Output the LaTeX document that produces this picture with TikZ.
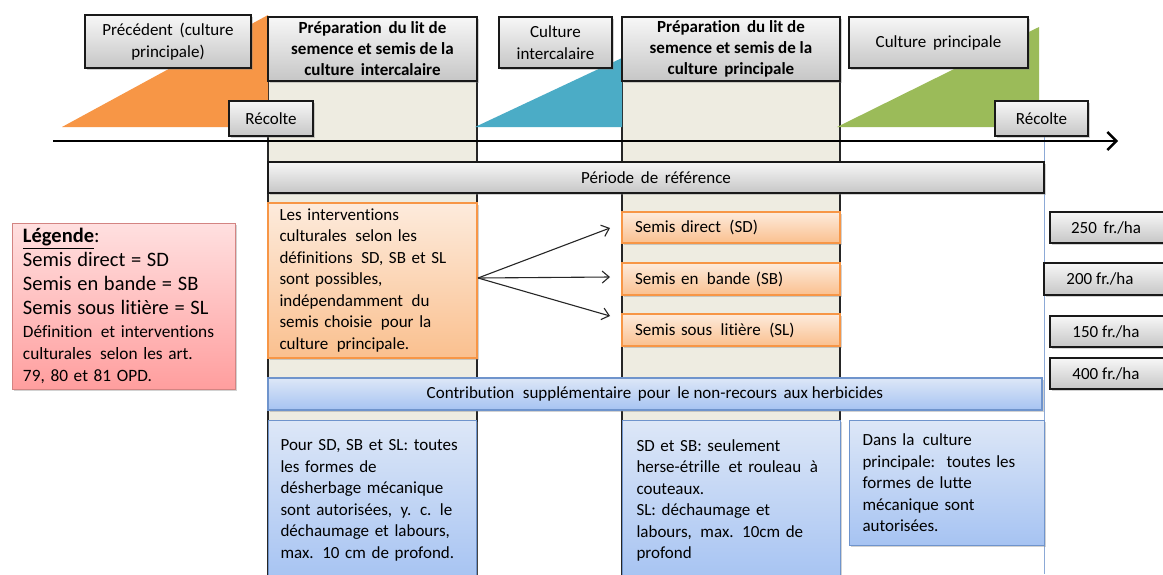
\documentclass[tikz,border=0pt]{standalone}
\usepackage{fontspec}
\setmainfont{Carlito}[Ligatures=NoCommon]
\usetikzlibrary{arrows.meta,shadows,calc}
\definecolor{beige}{HTML}{EEECE1}
\definecolor{grtop}{HTML}{F7F7F7}
\definecolor{grbot}{HTML}{C6C6C6}
\definecolor{orfill}{HTML}{F79646}
\definecolor{orltop}{HTML}{FDEBDC}
\definecolor{orlbot}{HTML}{FAC08F}
\definecolor{tealfill}{HTML}{4BACC6}
\definecolor{greenfill}{HTML}{9BBB59}
\definecolor{redtop}{HTML}{FFE0E0}
\definecolor{redbot}{HTML}{FF9E9E}
\definecolor{redline}{HTML}{C0504D}
\definecolor{bltop}{HTML}{DDE7F7}
\definecolor{blbot}{HTML}{A6C3F2}
\definecolor{blline}{HTML}{6F94CC}
\begin{document}
\begin{tikzpicture}[x=1pt,y=-1pt,font=\fontsize{17}{21.5}\selectfont,
  shad/.style={drop shadow={shadow xshift=1.5pt,shadow yshift=-1.5pt,opacity=0.35}},
  graybox/.style={draw=black!90,line width=1.1pt,top color=grtop,bottom color=grbot,shad,inner sep=2pt,align=center},
  colbox/.style={draw=black!85,line width=1.1pt,fill=beige},
  orbox/.style={draw=orfill,line width=1.1pt,top color=orltop,bottom color=orlbot,shad,inner sep=2pt},
  blbox/.style={draw=blline,line width=1.1pt,top color=bltop,bottom color=blbot,shad,inner sep=2pt},
  redbox/.style={draw=redline!70,line width=1pt,top color=redtop,bottom color=redbot,shad,inner sep=2pt},
  hdr/.style={graybox,minimum width=209pt,minimum height=64pt,font=\fontsize{17}{21}\selectfont\bfseries},
  link/.style={line width=1.1pt,black!85,-{Straight Barb[length=7pt,width=12pt,line width=1.1pt]}},
]
\clip (0,0) rectangle (1163,574);
\useasboundingbox (0,0) rectangle (1163,574);
\fill[white] (0,0) rectangle (1163,574);

% columns
\draw[colbox] (268,17) rectangle (477,600);
\draw[colbox] (622,17) rectangle (840,600);
\draw[blline!80,line width=0.8pt] (1044,136) -- (1044,574);

% triangles
\fill[orfill] (62,127) -- (268,15) -- (268,127) -- cycle;
\fill[tealfill] (475,127) -- (622,58) -- (622,127) -- cycle;
\fill[greenfill] (837,127) -- (1039,27) -- (1039,127) -- cycle;

% timeline
\coordinate (t0) at (53,141);
\coordinate (t1) at (1118,141);
\draw[line width=2.6pt,-{Straight Barb[length=9pt,width=18pt,line width=2.4pt]}] (t0) -- (t1);

% top boxes
\node[graybox,minimum width=166pt,minimum height=53pt] (prec) at (168,41.5) {Précédent \,(culture\\principale)};
\node[hdr] (hdr1) at (372.5,49) {Préparation \,du lit de\\semence et semis de la\\culture \,intercalaire};
\node[graybox,minimum width=84pt,minimum height=35pt] (rec1) at (271,118.5) {Récolte};
\node[graybox,minimum width=113pt,minimum height=51pt] (inter) at (555.5,42.5) {Culture\\intercalaire};
\node[hdr,minimum width=218pt] (hdr2) at (731,49) {Préparation \,du lit de\\semence et semis de la\\culture \,principale};
\node[graybox,minimum width=179pt,minimum height=51pt] (princ) at (938.5,42.5) {Culture \,principale};
\node[graybox,minimum width=93pt,minimum height=35pt] (rec2) at (1041.5,118.5) {Récolte};

\node[graybox,minimum width=776pt,minimum height=31pt] (periode) at (656,177.5) {Période \,de \,référence};

% legend
\node[redbox,minimum width=223pt,minimum height=166pt,text width=201pt,align=left] (legend) at (123.5,306)
 {{\fontsize{20.5}{24}\selectfont\underline{\textbf{Légende}}:\\
  Semis direct = SD\\
  Semis en bande = SB\\
  Semis sous litière = SL\\}
  \fontsize{17.3}{22.5}\selectfont Définition \,et interventions\\
  culturales \,selon les art.\\
  79, 80 et 81 OPD.};

% orange box
\node[orbox,minimum width=209pt,minimum height=155pt,text width=186pt,align=left] (orng) at (372.5,280.5)
 {Les interventions\\culturales \,selon les\\définitions \,SD, SB et SL\\sont possibles,\\indépendamment \,du\\semis choisie \,pour la\\culture \,principale.};

\node[orbox,minimum width=218pt,minimum height=31pt,text width=204pt,align=left] (sd) at (731,227.5) {\hspace*{6pt}Semis direct \,(SD)};
\node[orbox,minimum width=218pt,minimum height=32pt,text width=204pt,align=left] (sb) at (731,279) {\hspace*{6pt}Semis en \,bande (SB)};
\node[orbox,minimum width=218pt,minimum height=32pt,text width=204pt,align=left] (sl) at (731,330) {\hspace*{6pt}Semis sous \,litière \,(SL)};

\coordinate (tsd) at (610,228);
\coordinate (tsb) at (610,277);
\coordinate (tsl) at (610,316);
\coordinate (src) at (478,278);
\draw[link] (src) -- (tsd);
\draw[link] (src) -- (tsb);
\draw[link] (src) -- (tsl);

% prices
\node[graybox,minimum width=120pt,minimum height=31pt] (p250) at (1110,227.5) {\hspace*{-8pt}250 \,fr./ha};
\node[graybox,minimum width=126pt,minimum height=32pt] (p200) at (1107,279) {\hspace*{-14pt}200 fr./ha};
\node[graybox,minimum width=120pt,minimum height=31pt] (p150) at (1110,331.5) {\hspace*{-8pt}150 fr./ha};
\node[graybox,minimum width=120pt,minimum height=31pt] (p400) at (1110,373.5) {\hspace*{-8pt}400 fr./ha};

% contribution
\node[blbox,minimum width=774pt,minimum height=32pt] (contrib) at (655,394) {Contribution \;supplémentaire \,pour \,le non-recours \,aux herbicides};

% bottom blue boxes
\node[blbox,anchor=north west,minimum width=208pt,minimum height=160pt,text width=184pt,align=left] (bl1) at (268,420)
 {Pour SD, SB et SL: toutes\\les formes de\\désherbage mécanique\\sont autorisées, \,y. c. le\\déchaumage et labours,\\max. 10 cm de profond.};
\node[blbox,anchor=north west,minimum width=218pt,minimum height=160pt,text width=190pt,align=left] (bl2) at (622,420)
 {SD et SB: seulement\\herse-étrille \,et rouleau \,à\\couteaux.\\SL: déchaumage et\\labours, \,max. 10cm de\\profond};
\node[blbox,anchor=north west,minimum width=195pt,minimum height=125pt,text width=169pt,align=left] (bl3) at (849,420)
 {Dans la \,culture\\principale: \,toutes les\\formes de lutte\\mécanique sont\\autorisées.};
\end{tikzpicture}
\end{document}
